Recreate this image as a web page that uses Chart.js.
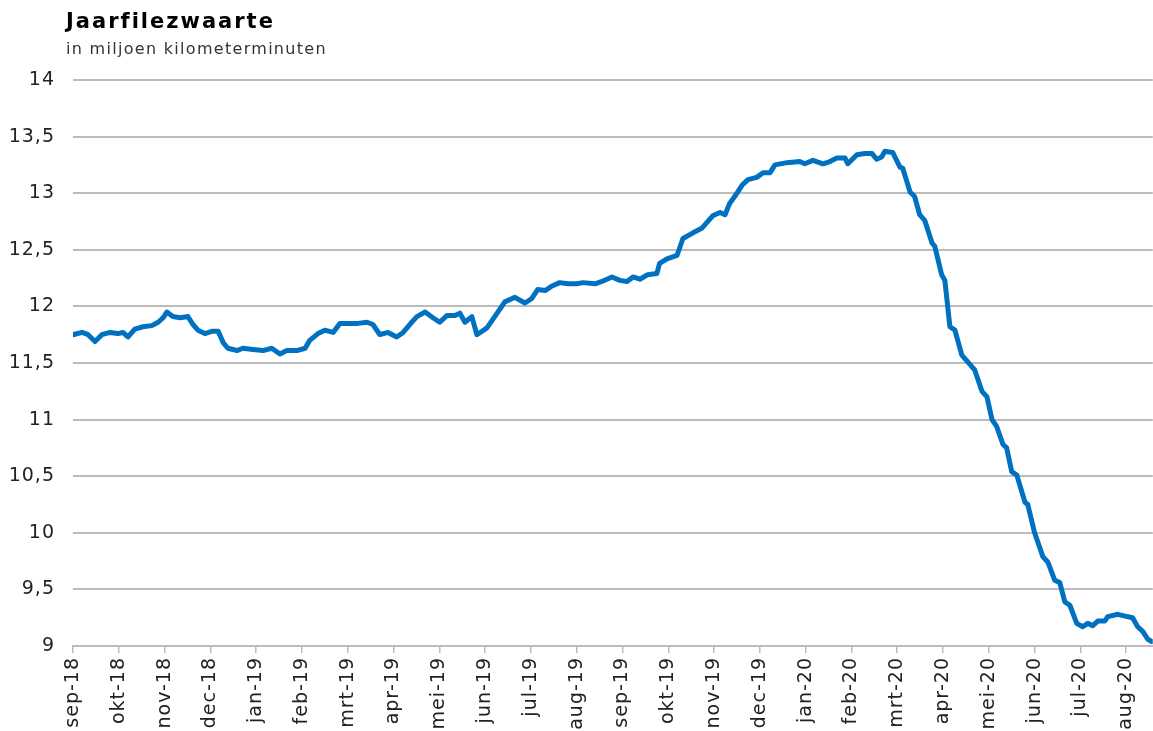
<!DOCTYPE html>
<html>
<head>
<meta charset="utf-8">
<script src="https://cdn.jsdelivr.net/npm/chart.js@4.4.1/dist/chart.umd.min.js"></script>
<style>
  html, body { margin: 0; padding: 0; background: #fff; }
  #wrap { width: 1153px; height: 731px; position: relative; }
</style>
</head>
<body>
<div id="wrap"><canvas id="chart"></canvas></div>
<script>
// maandlabels op de x-as (0 = sep-18)
let monthLabels = ["sep-18", "okt-18", "nov-18", "dec-18", "jan-19", "feb-19", "mrt-19", "apr-19",
  "mei-19", "jun-19", "jul-19", "aug-19", "sep-19", "okt-19", "nov-19", "dec-19",
  "jan-20", "feb-20", "mrt-20", "apr-20", "mei-20", "jun-20", "jul-20", "aug-20"];

// positie in maanden sinds sep-18
let months = [0, 0.20, 0.33, 0.48, 0.63, 0.81, 0.98, 1.09, 1.20, 1.35, 1.53, 1.72, 1.86, 1.97,
  2.05, 2.18, 2.34, 2.51, 2.62, 2.73, 2.88, 3.03, 3.17, 3.28, 3.38, 3.58, 3.71, 3.93,
  4.15, 4.34, 4.52, 4.67, 4.89, 5.07, 5.17, 5.35, 5.50, 5.68, 5.83, 6.05, 6.22, 6.42,
  6.55, 6.70, 6.88, 7.07, 7.21, 7.40, 7.51, 7.69, 7.86, 8.01, 8.17, 8.34, 8.45, 8.56,
  8.71, 8.82, 9.04, 9.21, 9.43, 9.65, 9.87, 10.02, 10.15, 10.31, 10.46, 10.63, 10.81,
  11.00, 11.14, 11.40, 11.55, 11.77, 11.94, 12.10, 12.23, 12.38, 12.55, 12.75, 12.81,
  12.97, 13.19, 13.32, 13.54, 13.73, 13.84, 13.97, 14.13, 14.24, 14.34, 14.45, 14.61,
  14.74, 14.93, 15.07, 15.22, 15.33, 15.59, 15.87, 15.98, 16.16, 16.38, 16.53, 16.68,
  16.86, 16.92, 17.12, 17.29, 17.45, 17.55, 17.66, 17.73, 17.90, 18.06, 18.12, 18.28,
  18.38, 18.49, 18.60, 18.76, 18.82, 18.97, 19.04, 19.15, 19.26, 19.41, 19.54, 19.69,
  19.85, 19.96, 20.07, 20.17, 20.31, 20.39, 20.50, 20.61, 20.79, 20.85, 21.00, 21.18,
  21.29, 21.44, 21.55, 21.66, 21.77, 21.92, 22.05, 22.16, 22.27, 22.38, 22.53, 22.60,
  22.82, 23.02, 23.14, 23.25, 23.36, 23.47, 23.56];

// jaarfilezwaarte in miljoen kilometerminuten
let filezwaarte = [11.75, 11.77, 11.75, 11.69, 11.75, 11.77, 11.76, 11.77, 11.73, 11.80, 11.82,
  11.83, 11.86, 11.90, 11.95, 11.91, 11.90, 11.91, 11.84, 11.79, 11.76, 11.78, 11.78,
  11.68, 11.63, 11.61, 11.63, 11.62, 11.61, 11.63, 11.58, 11.61, 11.61, 11.63, 11.70,
  11.76, 11.79, 11.77, 11.85, 11.85, 11.85, 11.86, 11.84, 11.75, 11.77, 11.73, 11.77,
  11.86, 11.91, 11.95, 11.90, 11.86, 11.92, 11.92, 11.94, 11.86, 11.91, 11.75, 11.81,
  11.91, 12.04, 12.08, 12.03, 12.07, 12.15, 12.14, 12.18, 12.21, 12.20, 12.20, 12.21,
  12.20, 12.22, 12.26, 12.23, 12.22, 12.26, 12.24, 12.28, 12.29, 12.38, 12.42, 12.45,
  12.60, 12.65, 12.69, 12.74, 12.80, 12.83, 12.81, 12.91, 12.97, 13.07, 13.12, 13.14,
  13.18, 13.18, 13.25, 13.27, 13.28, 13.26, 13.29, 13.26, 13.28, 13.31, 13.31, 13.26,
  13.34, 13.35, 13.35, 13.30, 13.32, 13.37, 13.36, 13.23, 13.22, 13.01, 12.97, 12.81,
  12.76, 12.56, 12.53, 12.28, 12.23, 11.82, 11.79, 11.57, 11.51, 11.44, 11.25, 11.20,
  11.00, 10.94, 10.78, 10.75, 10.54, 10.51, 10.27, 10.25, 10.00, 9.79, 9.74, 9.58,
  9.56, 9.39, 9.36, 9.20, 9.17, 9.20, 9.18, 9.22, 9.22, 9.26, 9.28, 9.26, 9.25, 9.17,
  9.13, 9.06, 9.04];

let chartTitle = "Jaarfilezwaarte";
let chartSubtitle = "in miljoen kilometerminuten";

let points = months.map(function(m, i) {
  return { x: m, y: filezwaarte[i] };
});

// titel en ondertitel linksboven, wat ruimere letters zoals het origineel
let titlePlugin = {
  id: "titles",
  beforeDraw: function(chart) {
    chart.ctx.letterSpacing = "1px";
  },
  afterDraw: function(chart) {
    let ctx = chart.ctx;
    ctx.save();
    ctx.fillStyle = "#000";
    ctx.textBaseline = "alphabetic";
    ctx.textAlign = "left";
    ctx.letterSpacing = "2px";
    ctx.font = "bold 21px 'DejaVu Sans'";
    ctx.fillText(chartTitle, 66, 28);
    ctx.fillStyle = "#333";
    ctx.letterSpacing = "1.3px";
    ctx.font = "16px 'DejaVu Sans'";
    ctx.fillText(chartSubtitle, 66, 54);
    ctx.restore();
    ctx.letterSpacing = "0px";
  }
};

let canvas = document.getElementById("chart");
let ctx = canvas.getContext("2d");
let chart = new Chart(ctx, {
  type: "line",
  data: {
    datasets: [{
      label: chartTitle,
      data: points,
      borderColor: "#0070C0",
      borderWidth: 5,
      pointRadius: 0,
      tension: 0,
      borderJoinStyle: "round",
      borderCapStyle: "round"
    }]
  },
  options: {
    responsive: true,
    maintainAspectRatio: false,
    animation: false,
    layout: { padding: { top: 80, left: 0, right: 0, bottom: 0 } },
    plugins: {
      legend: { display: false },
      tooltip: { enabled: false }
    },
    scales: {
      x: {
        type: "linear",
        min: 0,
        max: 23.58,
        afterFit: function(scale) { scale.height = 85; },
        grid: {
          drawOnChartArea: false,
          drawTicks: true,
          tickLength: 7,
          color: "#bcbcbc",
          lineWidth: 1.5
        },
        border: { display: true, color: "#bcbcbc", width: 2 },
        ticks: {
          stepSize: 1,
          includeBounds: false,
          autoSkip: false,
          maxRotation: 90,
          minRotation: 90,
          padding: 4,
          color: "#222",
          font: { family: "'DejaVu Sans'", size: 19 },
          callback: function(value) {
            return monthLabels[value];
          }
        }
      },
      y: {
        min: 9,
        max: 14,
        afterFit: function(scale) { scale.width = 73; },
        grid: {
          drawTicks: false,
          color: "#bcbcbc",
          lineWidth: 2
        },
        border: { display: false },
        ticks: {
          stepSize: 0.5,
          padding: 18,
          color: "#222",
          font: { family: "'DejaVu Sans'", size: 19 },
          callback: function(value) {
            return String(value).replace(".", ",");
          }
        }
      }
    }
  },
  plugins: [titlePlugin]
});
</script>
</body>
</html>
